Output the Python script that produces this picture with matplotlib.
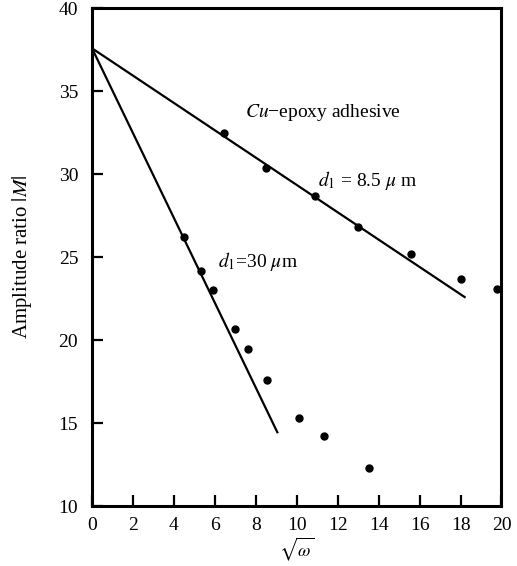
import matplotlib.pyplot as plt

plt.rcParams['font.family'] = 'Liberation Serif'
plt.rcParams['mathtext.fontset'] = 'stix'

# d1 = 8.5 um data
x_thin = [6.45, 8.5, 10.9, 13.0, 15.6, 18.0, 19.8]
y_thin = [32.5, 30.4, 28.7, 26.8, 25.2, 23.7, 23.1]
fit_thin_x = [0, 18.2]
fit_thin_y = [37.6, 22.6]

# d1 = 30 um data
x_thick = [4.5, 5.3, 5.9, 7.0, 7.6, 8.55, 10.1, 11.35, 13.55]
y_thick = [26.2, 24.2, 23.0, 20.65, 19.45, 17.6, 15.3, 14.2, 12.3]
fit_thick_x = [0, 9.05]
fit_thick_y = [37.6, 14.45]

xticks = [0, 2, 4, 6, 8, 10, 12, 14, 16, 18, 20]
yticks = [10, 15, 20, 25, 30, 35, 40]

fig = plt.figure(figsize=(5.17, 5.66), dpi=100)
ax = fig.add_axes([0.178, 0.106, 0.792, 0.879])

ax.plot(fit_thin_x, fit_thin_y, c='k', lw=1.6)
ax.plot(fit_thick_x, fit_thick_y, c='k', lw=1.6)
ax.plot(x_thin, y_thin, 'o', c='k', ms=5, clip_on=False)
ax.plot(x_thick, y_thick, 'o', c='k', ms=5, clip_on=False)

ax.text(7.45, 33.75, r'$Cu$' + '\u2212epoxy adhesive', fontsize=14, va='center')
ax.text(11.05, 29.6, r'$d_1$ = 8.5 $\mu$ m', fontsize=14, va='center')
ax.text(6.15, 24.75, r'$d_1$=30 $\mu$m', fontsize=14, va='center')

ax.set_xlim(0, 20)
ax.set_ylim(10, 40)
ax.set_xticks(xticks)
ax.set_yticks(yticks)
ax.tick_params(direction='in', length=8, width=1.6, labelsize=14, pad=8)
ax.tick_params(axis='y', pad=10)
for s in ax.spines.values():
    s.set_linewidth(2.2)

ax.set_xlabel(r'$\sqrt{\omega}$', fontsize=13, labelpad=1)
ax.set_ylabel(r'Amplitude ratio $|M|$', fontsize=15, labelpad=18)

fig.savefig('out.png', dpi=100)
